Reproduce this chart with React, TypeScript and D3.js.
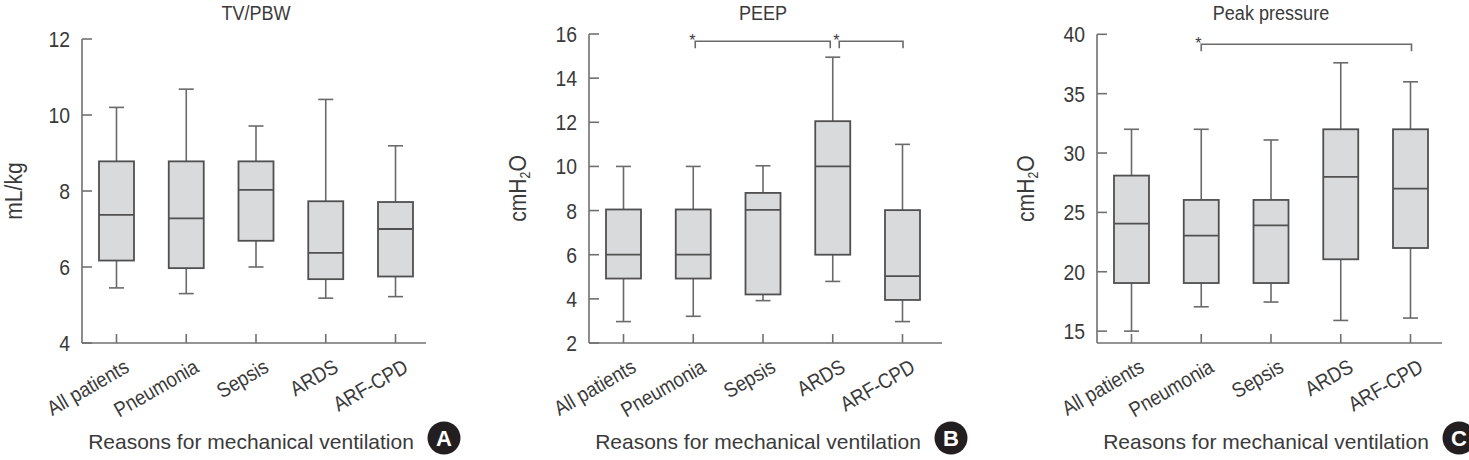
import React from "react";
import * as d3 from "d3";

const categories = ["All patients", "Pneumonia", "Sepsis", "ARDS", "ARF-CPD"];

// TV/PBW (mL/kg)
const tvLow = [5.45, 5.3, 6.0, 5.18, 5.22];
const tvQ1 = [6.17, 5.97, 6.69, 5.68, 5.75];
const tvMedian = [7.37, 7.28, 8.03, 6.37, 7.0];
const tvQ3 = [8.78, 8.78, 8.78, 7.73, 7.71];
const tvHigh = [10.2, 10.68, 9.71, 10.41, 9.19];
const tvTicks = [4, 6, 8, 10, 12];

// PEEP (cmH2O)
const peepLow = [2.97, 3.21, 3.92, 4.79, 2.97];
const peepQ1 = [4.92, 4.92, 4.2, 6.0, 3.95];
const peepMedian = [6.0, 6.0, 8.03, 10.0, 5.03];
const peepQ3 = [8.05, 8.05, 8.8, 12.05, 8.02];
const peepHigh = [10.0, 10.0, 10.03, 14.95, 11.0];
const peepTicks = [2, 4, 6, 8, 10, 12, 14, 16];

// Peak pressure (cmH2O)
const peakLow = [15.0, 17.05, 17.45, 15.9, 16.1];
const peakQ1 = [19.05, 19.05, 19.05, 21.05, 22.0];
const peakMedian = [24.05, 23.05, 23.9, 28.0, 27.0];
const peakQ3 = [28.1, 26.05, 26.05, 32.0, 32.0];
const peakHigh = [32.0, 32.0, 31.1, 37.6, 36.0];
const peakTicks = [15, 20, 25, 30, 35, 40];

const peepBrackets = [
  { from: "Pneumonia", to: "ARDS", label: "*" },
  { from: "ARDS", to: "ARF-CPD", label: "*" },
];
const peakBrackets = [{ from: "Pneumonia", to: "ARF-CPD", label: "*" }];

const xTitle = "Reasons for mechanical ventilation";

const FONT = "'Liberation Sans', Arial, Helvetica, sans-serif";
const TEXT = "#3a3a3a";
const AXIS = "#707070";
const BOX_STROKE = "#505050";
const WHISK = "#6a6a6a";
const FILL = "#d9dadb";

type Bracket = { from: string; to: string; label: string };

function T(props: {
  x: number;
  y: number;
  size: number;
  anchor?: "start" | "middle" | "end";
  rotate?: number;
  sx?: number;
  dy?: string;
  fill?: string;
  weight?: string;
  children: React.ReactNode;
}) {
  const { x, y, size, anchor = "middle", rotate = 0, sx = 0.88, dy, fill = TEXT, weight } = props;
  return (
    <text
      transform={`translate(${x},${y}) rotate(${rotate}) scale(${sx},1)`}
      textAnchor={anchor}
      fontSize={size}
      dy={dy}
      fill={fill}
      fontWeight={weight}
    >
      {props.children}
    </text>
  );
}

function Panel(props: {
  left: number;
  axisEnd: number;
  title: string;
  yLabel: React.ReactNode;
  yLabelOffset: number;
  domain: [number, number];
  yTop: number;
  ticks: number[];
  low: number[];
  q1: number[];
  med: number[];
  q3: number[];
  high: number[];
  letter: string;
  brackets?: Bracket[];
  bracketY?: number;
  bracketNudge?: [number, number][];
}) {
  const { left, axisEnd, domain, yTop, ticks } = props;
  const axisY = 343;
  const x = d3
    .scalePoint<string>()
    .domain(categories)
    .range([left + 34.5, left + 313.5]);
  const y = d3.scaleLinear().domain(domain).range([axisY, yTop]);
  const boxW = 35;
  const capW = 15;
  const midX = (x(categories[0])! + x(categories[categories.length - 1])!) / 2;

  return (
    <g>
      <T x={midX} y={20} size={21} sx={0.86}>
        {props.title}
      </T>
      {/* y axis */}
      <line x1={left} x2={left} y1={y(domain[1])} y2={axisY} stroke={AXIS} strokeWidth={1.6} />
      {ticks.map((t) => (
        <g key={t}>
          <line x1={left} x2={left + 10} y1={y(t)} y2={y(t)} stroke={AXIS} strokeWidth={1.6} />
          <T x={left - 12} y={y(t)} dy="0.36em" anchor="end" size={22} sx={0.88}>
            {t}
          </T>
        </g>
      ))}
      {/* x axis */}
      <line x1={left} x2={axisEnd} y1={axisY} y2={axisY} stroke={AXIS} strokeWidth={1.6} />
      {categories.map((c) => (
        <g key={c}>
          <line x1={x(c)} x2={x(c)} y1={axisY} y2={axisY - 9} stroke={AXIS} strokeWidth={1.6} />
          <T x={x(c)! + 14} y={axisY + 28} rotate={-30} anchor="end" size={21} sx={0.88}>
            {c}
          </T>
        </g>
      ))}
      {/* boxes */}
      {categories.map((c, i) => {
        const cx = x(c)!;
        return (
          <g key={"b" + c}>
            <line x1={cx} x2={cx} y1={y(props.high[i])} y2={y(props.q3[i])} stroke={WHISK} strokeWidth={1.6} />
            <line x1={cx - capW / 2} x2={cx + capW / 2} y1={y(props.high[i])} y2={y(props.high[i])} stroke={WHISK} strokeWidth={1.6} />
            <line x1={cx} x2={cx} y1={y(props.q1[i])} y2={y(props.low[i])} stroke={WHISK} strokeWidth={1.6} />
            <line x1={cx - capW / 2} x2={cx + capW / 2} y1={y(props.low[i])} y2={y(props.low[i])} stroke={WHISK} strokeWidth={1.6} />
            <rect
              x={cx - boxW / 2}
              y={y(props.q3[i])}
              width={boxW}
              height={y(props.q1[i]) - y(props.q3[i])}
              fill={FILL}
              stroke={BOX_STROKE}
              strokeWidth={1.8}
            />
            <line x1={cx - boxW / 2} x2={cx + boxW / 2} y1={y(props.med[i])} y2={y(props.med[i])} stroke={BOX_STROKE} strokeWidth={1.8} />
          </g>
        );
      })}
      {/* significance brackets */}
      {(props.brackets || []).map((b, i) => {
        const nudge = props.bracketNudge ? props.bracketNudge[i] : [0, 0];
        const x1 = x(b.from)! + nudge[0];
        const x2 = x(b.to)! + nudge[1];
        const by = props.bracketY!;
        return (
          <g key={"br" + i}>
            <path
              d={`M${x1},${by + 7}V${by}H${x2}V${by + 7}`}
              fill="none"
              stroke={WHISK}
              strokeWidth={1.6}
            />
            <T x={x1 - 3} y={by + 5} size={16} sx={1}>
              {b.label}
            </T>
          </g>
        );
      })}
      {/* y label */}
      <T x={left - props.yLabelOffset} y={(axisY + yTop) / 2} rotate={-90} size={24} sx={0.88}>
        {props.yLabel}
      </T>
      {/* x title */}
      <T x={left + 169} y={449} size={21} sx={1}>
        {xTitle}
      </T>
      <circle cx={left + 362} cy={438} r={16.5} fill="#231f20" />
      <T x={left + 362} y={438} dy="0.36em" size={22} sx={1} weight="bold" fill="#fff">
        {props.letter}
      </T>
    </g>
  );
}

export default function App() {
  const cmH2O = (
    <>
      cmH
      <tspan fontSize={14} dy={4}>2</tspan>
      <tspan dy={-4}>O</tspan>
    </>
  );
  return (
    <svg
      width={1469}
      height={460}
      style={{ position: "absolute", left: 0, top: 0, background: "#fff" }}
      fontFamily={FONT}
    >
      <Panel
        left={82}
        axisEnd={426}
        title="TV/PBW"
        yLabel="mL/kg"
        yLabelOffset={60}
        domain={[4, 12]}
        yTop={39}
        ticks={tvTicks}
        low={tvLow}
        q1={tvQ1}
        med={tvMedian}
        q3={tvQ3}
        high={tvHigh}
        letter="A"
      />
      <Panel
        left={589}
        axisEnd={942}
        title="PEEP"
        yLabel={cmH2O}
        yLabelOffset={63}
        domain={[2, 16]}
        yTop={34}
        ticks={peepTicks}
        low={peepLow}
        q1={peepQ1}
        med={peepMedian}
        q3={peepQ3}
        high={peepHigh}
        letter="B"
        brackets={peepBrackets}
        bracketY={41.3}
        bracketNudge={[
          [2, -2.5],
          [6.5, 0.5],
        ]}
      />
      <Panel
        left={1097}
        axisEnd={1442}
        title="Peak pressure"
        yLabel={cmH2O}
        yLabelOffset={63}
        domain={[14, 40]}
        yTop={34.3}
        ticks={peakTicks}
        low={peakLow}
        q1={peakQ1}
        med={peakMedian}
        q3={peakQ3}
        high={peakHigh}
        letter="C"
        brackets={peakBrackets}
        bracketY={44.3}
        bracketNudge={[[0, 1]]}
      />
    </svg>
  );
}
